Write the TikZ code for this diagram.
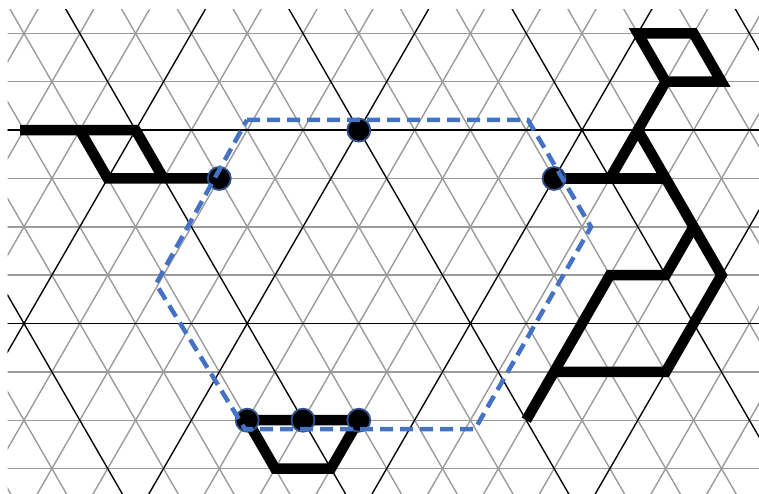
\documentclass[tikz,border=0pt]{standalone}
\definecolor{gridgray}{RGB}{155,155,155}
\definecolor{hexblue}{RGB}{68,114,196}
\definecolor{dotedge}{RGB}{47,82,143}
\tikzset{
  fine/.style={gridgray, line width=1.4pt},
  coarse/.style={black, line width=1.2pt},
  thickpath/.style={black, line width=10.5pt, line join=miter},
  hexline/.style={hexblue, line width=4.5pt, dash pattern=on 13pt off 7pt},
  site/.style={circle, fill=black, draw=dotedge, line width=1.8pt, minimum size=23pt, inner sep=0pt},
}
\begin{document}
\begin{tikzpicture}[x=1pt,y=-1pt]
\useasboundingbox (0,0) rectangle (759,494);
\begin{scope}[shift={(135.6,130.1)}, x={(55.8pt,0pt)}, y={(0pt,-48.35pt)}]
  \begin{scope}
    \clip (-2.295,-2.484) rectangle (11.2,7.53);
    \foreach \r in {-3,...,8} \draw[fine] (-4,\r) -- (13,\r);
    \foreach \k in {-8,...,17} {
      \draw[fine] ({\k-1.5},-3) -- ({\k+4},8);
      \draw[fine] ({\k+1.5},-3) -- ({\k-4},8);
    }
    \foreach \r in {-4,0,4,8} \draw[coarse] (-4,\r) -- (13,\r);
    \foreach \k in {-8,-4,...,16} {
      \draw[coarse] ({\k-1.5},-3) -- ({\k+4},8);
      \draw[coarse] ({\k+1.5},-3) -- ({\k-4},8);
    }
  \end{scope}
  % left structure
  \coordinate (L0) at (-2.07,0);
  \draw[thickpath] (L0) -- (0,0) -- (0.5,1);
  \draw[thickpath] (-1,0) -- (-0.5,1) -- (1.5,1);
  % bottom structure
  \draw[thickpath] (2,6) -- (4,6) -- (3.5,7) -- (2.5,7) -- cycle;
  % right structure
  \draw[thickpath] (9,-2) -- (10,-2) -- (10.5,-1) -- (9.5,-1) -- cycle;
  \draw[thickpath] (9.5,-1) -- (8.5,1);
  \draw[thickpath] (7.5,1) -- (9.5,1);
  \draw[thickpath] (9,0) -- (10.5,3) -- (9.5,5) -- (7.5,5);
  \draw[thickpath] (7,6) -- (8.5,3) -- (9.5,3) -- (10,2);
  % sites
  \node[site] (dA) at (1.5,1) {};
  \node[site] (dB) at (4,0) {};
  \node[site] (dC) at (7.5,1) {};
  \node[site] (dD) at (2,6) {};
  \node[site] (dE) at (3,6) {};
  \node[site] (dF) at (4,6) {};
\end{scope}
% dashed hexagon
\coordinate (h1) at (247,120);
\coordinate (h2) at (528,120);
\coordinate (h3) at (591,227);
\coordinate (h4) at (475,429);
\coordinate (h5) at (245,429);
\coordinate (h6) at (156,284);
\draw[hexline] (h1) -- (h2) -- (h3) -- (h4) -- (h5) -- (h6) -- cycle;
\end{tikzpicture}
\end{document}
